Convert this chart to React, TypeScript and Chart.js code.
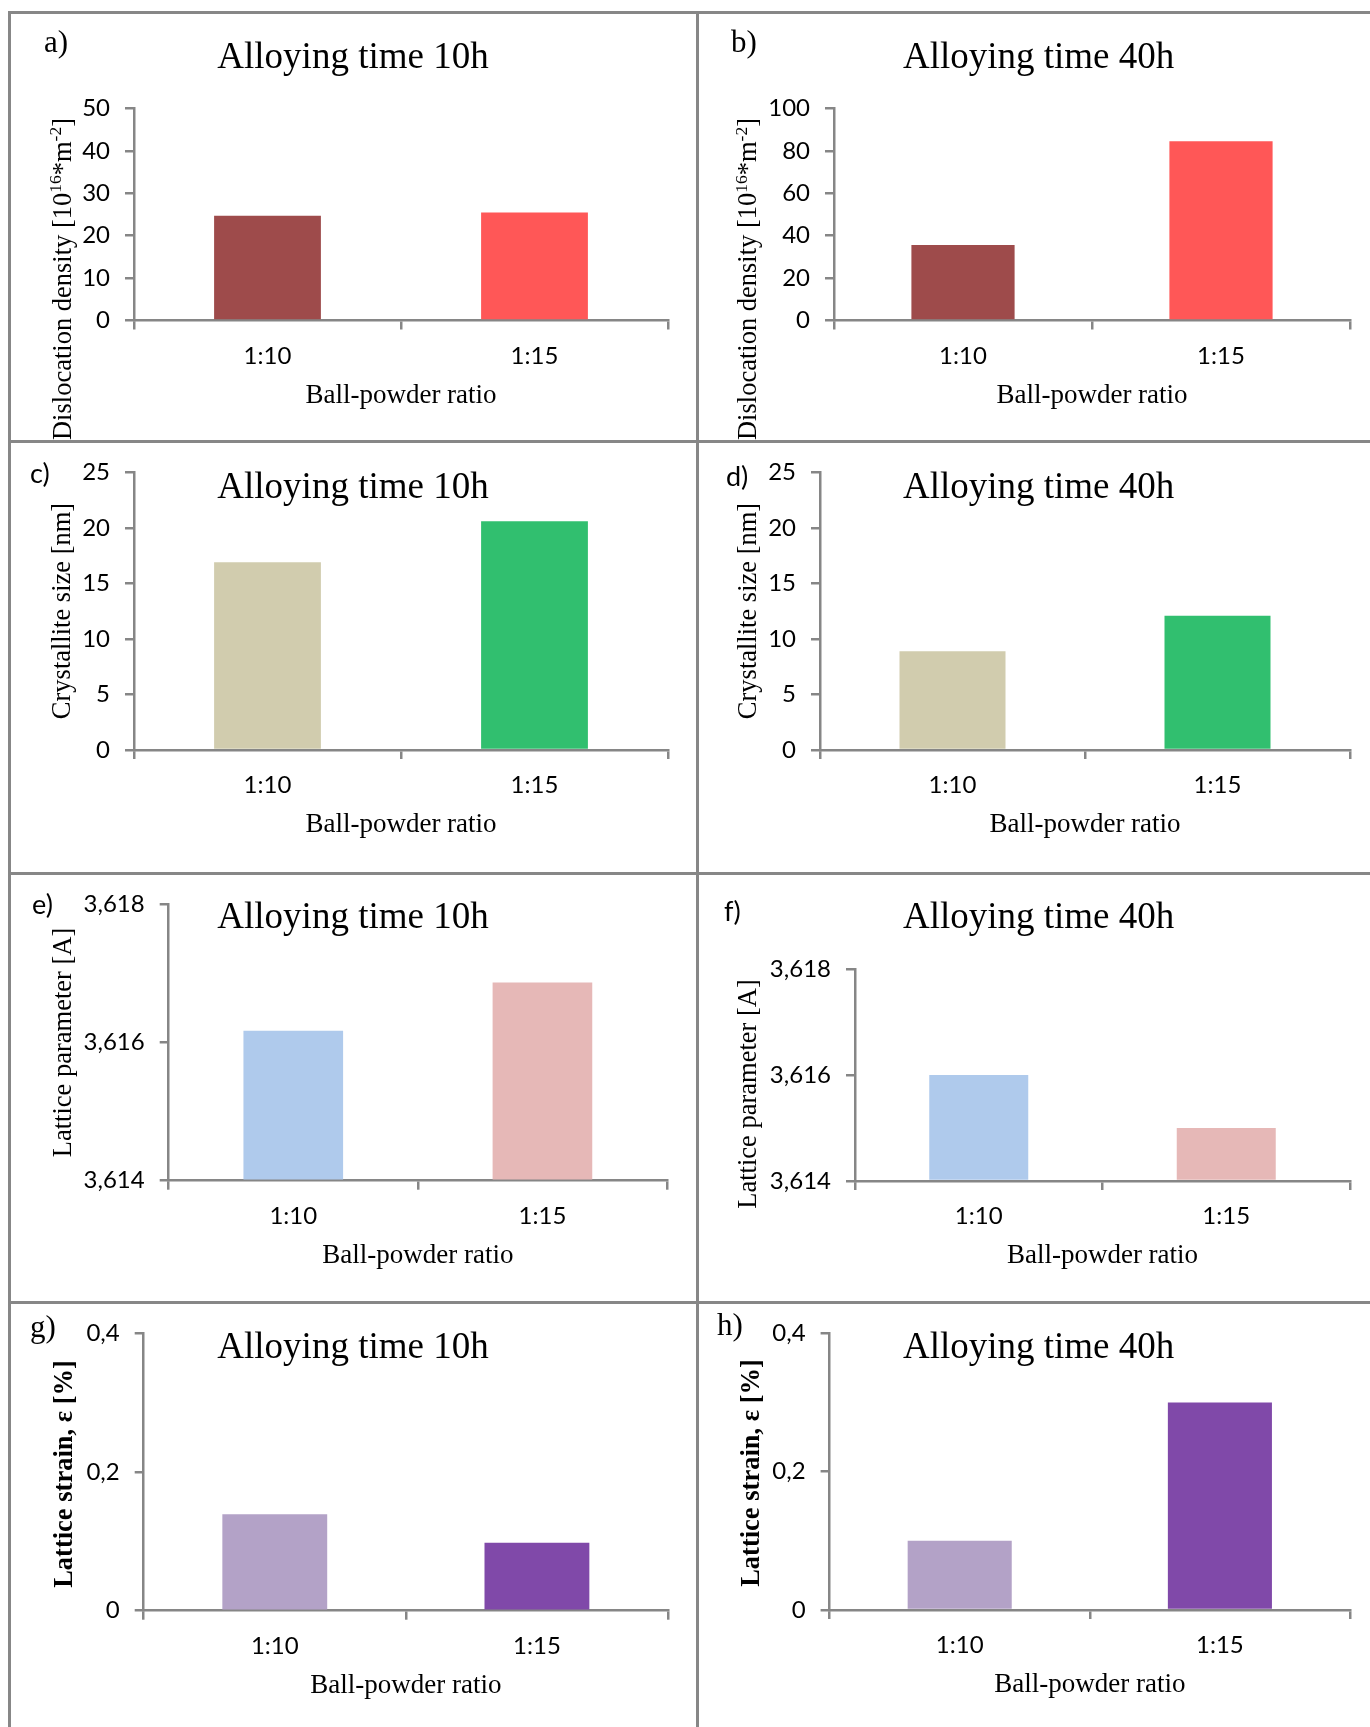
import React, { useEffect, useRef } from 'react';
import { Chart, registerables } from 'chart.js';

Chart.register(...registerables);

// ---------- data ----------
const categories = ['1:10', '1:15'];

const dislocation10h = [24.7, 25.5];
const dislocation40h = [35.6, 84.5];
const crystallite10h = [16.9, 20.6];
const crystallite40h = [8.9, 12.1];
const lattice10h = [3.61617, 3.61687];
const lattice40h = [3.616, 3.615];
const strain10h = [0.139, 0.098];
const strain40h = [0.1, 0.3];

const dislocationTicks10h = [0, 10, 20, 30, 40, 50];
const dislocationTickLabels10h = ['0', '10', '20', '30', '40', '50'];
const dislocationTicks40h = [0, 20, 40, 60, 80, 100];
const dislocationTickLabels40h = ['0', '20', '40', '60', '80', '100'];
const crystalliteTicks = [0, 5, 10, 15, 20, 25];
const crystalliteTickLabels = ['0', '5', '10', '15', '20', '25'];
const latticeTicks = [3.614, 3.616, 3.618];
const latticeTickLabels = ['3,614', '3,616', '3,618'];
const strainTicks = [0, 0.2, 0.4];
const strainTickLabels = ['0', '0,2', '0,4'];

const title10h = 'Alloying time 10h';
const title40h = 'Alloying time 40h';
const xAxisTitle = 'Ball-powder ratio';

type Part = { text: string; sup?: boolean };
const dislocationTitle: Part[] = [
  { text: 'Dislocation density [10' },
  { text: '16', sup: true },
  { text: '*m' },
  { text: '-2', sup: true },
  { text: ']' },
];
const crystalliteTitle: Part[] = [{ text: 'Crystallite size [nm]' }];
const latticeTitle: Part[] = [{ text: 'Lattice parameter [A]' }];
const strainTitle: Part[] = [{ text: 'Lattice strain, ε [%]' }];

// ---------- styles ----------
const AXIS = '#868686';
const BORDER = '#878787';
const SERIF = '"Liberation Serif", "Times New Roman", serif';
const SANS = 'Lato, "Open Sans", sans-serif';
const redPair = ['#9E4B4B', '#FF5757'];
const tanGreen = ['#D1CCAE', '#31BF6F'];
const bluePink = ['#AFCAEC', '#E6B8B7'];
const purplePair = ['#B3A2C7', '#8049A9'];

const TICK_SIZE = 24;
const XTITLE_SIZE = 27;
const YTITLE_SIZE = 26.5;
const TITLE_SIZE = 37;

type Box = { x: number; y: number; w: number; h: number };
type Plot = { l: number; r: number; t: number; b: number };

const colL = { x: 11, w: 686 };
const colR = { x: 699, w: 669 };
const rows = [
  { y: 14, h: 426 },
  { y: 443, h: 429 },
  { y: 875, h: 426 },
  { y: 1304, h: 423 },
];
const box = (c: { x: number; w: number }, r: { y: number; h: number }): Box => ({ x: c.x, y: r.y, w: c.w, h: r.h });

type Panel = {
  letter: string;
  letterFont: string;
  letterPos: [number, number];
  title: string;
  titlePos: [number, number];
  yTitle: Part[];
  yTitlePos: [number, number];
  yAnchor: 'end' | 'center';
  yBold: boolean;
  box: Box;
  plot: Plot;
  values: number[];
  ticks: number[];
  tickLabels: string[];
  colors: string[];
};

const serifLetter = `31px ${SERIF}`;
const sansLetter = `27px ${SANS}`;

const panels: Panel[] = [
  {
    letter: 'a)', letterFont: serifLetter, letterPos: [44, 52],
    title: title10h, titlePos: [353, 68],
    yTitle: dislocationTitle, yTitlePos: [63.5, 118], yAnchor: 'end', yBold: false,
    box: box(colL, rows[0]), plot: { l: 134, r: 668, t: 108.5, b: 320.5 },
    values: dislocation10h, ticks: dislocationTicks10h, tickLabels: dislocationTickLabels10h, colors: redPair,
  },
  {
    letter: 'b)', letterFont: serifLetter, letterPos: [731, 52],
    title: title40h, titlePos: [1038.6, 68],
    yTitle: dislocationTitle, yTitlePos: [749, 118], yAnchor: 'end', yBold: false,
    box: box(colR, rows[0]), plot: { l: 834, r: 1350, t: 108.5, b: 320.5 },
    values: dislocation40h, ticks: dislocationTicks40h, tickLabels: dislocationTickLabels40h, colors: redPair,
  },
  {
    letter: 'c)', letterFont: sansLetter, letterPos: [30, 483],
    title: title10h, titlePos: [353, 498],
    yTitle: crystalliteTitle, yTitlePos: [62.5, 611], yAnchor: 'center', yBold: false,
    box: box(colL, rows[1]), plot: { l: 134, r: 668, t: 471.7, b: 750 },
    values: crystallite10h, ticks: crystalliteTicks, tickLabels: crystalliteTickLabels, colors: tanGreen,
  },
  {
    letter: 'd)', letterFont: sansLetter, letterPos: [726, 486],
    title: title40h, titlePos: [1038.6, 498],
    yTitle: crystalliteTitle, yTitlePos: [749, 611], yAnchor: 'center', yBold: false,
    box: box(colR, rows[1]), plot: { l: 820, r: 1350, t: 471.7, b: 750 },
    values: crystallite40h, ticks: crystalliteTicks, tickLabels: crystalliteTickLabels, colors: tanGreen,
  },
  {
    letter: 'e)', letterFont: sansLetter, letterPos: [32, 914],
    title: title10h, titlePos: [353, 928],
    yTitle: latticeTitle, yTitlePos: [63.5, 1042.5], yAnchor: 'center', yBold: false,
    box: box(colL, rows[2]), plot: { l: 168.7, r: 667, t: 902.7, b: 1180.7 },
    values: lattice10h, ticks: latticeTicks, tickLabels: latticeTickLabels, colors: bluePink,
  },
  {
    letter: 'f)', letterFont: sansLetter, letterPos: [724, 921],
    title: title40h, titlePos: [1038.6, 928],
    yTitle: latticeTitle, yTitlePos: [749, 1094], yAnchor: 'center', yBold: false,
    box: box(colR, rows[2]), plot: { l: 855, r: 1350, t: 969, b: 1181 },
    values: lattice40h, ticks: latticeTicks, tickLabels: latticeTickLabels, colors: bluePink,
  },
  {
    letter: 'g)', letterFont: serifLetter, letterPos: [30, 1337],
    title: title10h, titlePos: [353, 1358],
    yTitle: strainTitle, yTitlePos: [64.5, 1474], yAnchor: 'center', yBold: true,
    box: box(colL, rows[3]), plot: { l: 143.7, r: 668, t: 1332.7, b: 1610.7 },
    values: strain10h, ticks: strainTicks, tickLabels: strainTickLabels, colors: purplePair,
  },
  {
    letter: 'h)', letterFont: serifLetter, letterPos: [717, 1335],
    title: title40h, titlePos: [1038.6, 1358],
    yTitle: strainTitle, yTitlePos: [752, 1473], yAnchor: 'center', yBold: true,
    box: box(colR, rows[3]), plot: { l: 829.6, r: 1350, t: 1332.7, b: 1610 },
    values: strain40h, ticks: strainTicks, tickLabels: strainTickLabels, colors: purplePair,
  },
];

function makeTextPlugin(p: Panel) {
  return {
    id: 'panelText',
    afterDraw(chart: any) {
      const ctx: CanvasRenderingContext2D = chart.ctx;
      const ox = p.box.x;
      const oy = p.box.y;
      ctx.save();
      ctx.fillStyle = '#000';
      ctx.textBaseline = 'alphabetic';
      // panel letter
      ctx.font = p.letterFont;
      ctx.textAlign = 'left';
      ctx.fillText(p.letter, p.letterPos[0] - ox, p.letterPos[1] - oy);
      // title
      ctx.font = `${TITLE_SIZE}px ${SERIF}`;
      ctx.textAlign = 'center';
      ctx.fillText(p.title, p.titlePos[0] - ox, p.titlePos[1] - oy);
      // y title (rotated, with superscripts)
      const weight = p.yBold ? 'bold ' : '';
      const mainFont = `${weight}${YTITLE_SIZE}px ${SERIF}`;
      const supFont = `${weight}${YTITLE_SIZE * 0.66}px ${SERIF}`;
      let total = 0;
      const widths = p.yTitle.map((part) => {
        ctx.font = part.sup ? supFont : mainFont;
        const w = ctx.measureText(part.text).width;
        total += w;
        return w;
      });
      ctx.translate(p.yTitlePos[0] - ox, p.yTitlePos[1] - oy);
      ctx.rotate(-Math.PI / 2);
      ctx.textAlign = 'left';
      let x = p.yAnchor === 'end' ? -total : -total / 2;
      const base = YTITLE_SIZE * 0.27;
      p.yTitle.forEach((part, i) => {
        ctx.font = part.sup ? supFont : mainFont;
        ctx.fillText(part.text, x, part.sup ? base - YTITLE_SIZE * 0.36 : base);
        x += widths[i];
      });
      ctx.restore();
    },
  };
}

function buildChart(canvas: HTMLCanvasElement, p: Panel) {
  const yAxisWidth = p.plot.l - p.box.x;
  const xAxisHeight = p.box.y + p.box.h - p.plot.b;
  const xTitleCenter = p.plot.b + 75;
  const xTitlePadBottom = p.box.y + p.box.h - xTitleCenter - (XTITLE_SIZE * 1.2) / 2;
  const ticks = p.ticks;
  const labels = p.tickLabels;
  return new Chart(canvas, {
    type: 'bar',
    data: {
      labels: categories,
      datasets: [
        {
          data: p.values,
          backgroundColor: p.colors,
          borderWidth: 0,
          barPercentage: 0.4,
          categoryPercentage: 1,
          base: ticks[0],
        },
      ],
    },
    options: {
      responsive: false,
      maintainAspectRatio: false,
      animation: false,
      devicePixelRatio: 1,
      layout: {
        padding: {
          left: 0,
          top: p.plot.t - p.box.y,
          right: p.box.x + p.box.w - p.plot.r,
          bottom: 0,
        },
      },
      plugins: {
        legend: { display: false },
        tooltip: { enabled: false },
        title: { display: false },
      },
      scales: {
        x: {
          type: 'category',
          offset: true,
          grid: {
            offset: true,
            drawOnChartArea: false,
            drawTicks: true,
            tickLength: 9,
            lineWidth: 2.5,
            color: AXIS,
          },
          border: { display: true, color: AXIS, width: 2.5 },
          ticks: {
            color: '#000',
            font: { family: SANS, size: TICK_SIZE },
            padding: 12,
            maxRotation: 0,
            autoSkip: false,
          },
          title: {
            display: true,
            text: xAxisTitle,
            color: '#000',
            font: { family: SERIF, size: XTITLE_SIZE },
            padding: { top: 0, bottom: xTitlePadBottom },
          },
          afterFit: (scale: any) => {
            scale.height = xAxisHeight;
          },
        },
        y: {
          type: 'linear',
          min: ticks[0],
          max: ticks[ticks.length - 1],
          grid: {
            drawOnChartArea: false,
            drawTicks: true,
            tickLength: 9,
            lineWidth: 2.5,
            color: AXIS,
          },
          border: { display: true, color: AXIS, width: 2.5 },
          ticks: {
            color: '#000',
            font: { family: SANS, size: TICK_SIZE },
            padding: 15,
            callback: (_v: any, i: number) => labels[i],
          },
          afterBuildTicks: (scale: any) => {
            scale.ticks = ticks.map((v) => ({ value: v }));
          },
          afterFit: (scale: any) => {
            scale.width = yAxisWidth;
          },
        },
      },
    },
    plugins: [makeTextPlugin(p)],
  } as any);
}

export default function App() {
  const refs = useRef<(HTMLCanvasElement | null)[]>([]);

  useEffect(() => {
    const charts = panels.map((p, i) => buildChart(refs.current[i] as HTMLCanvasElement, p));
    return () => charts.forEach((c) => c.destroy());
  }, []);

  const line = (left: number, top: number, width: number, height: number, key: string) => (
    <div
      key={key}
      style={{ position: 'absolute', left, top, width, height, background: BORDER }}
    />
  );

  return (
    <div style={{ position: 'absolute', left: 0, top: 0, width: 1370, height: 1727, background: '#fff', overflow: 'hidden' }}>
      {panels.map((p, i) => (
        <canvas
          key={i}
          ref={(el) => {
            refs.current[i] = el;
          }}
          width={p.box.w}
          height={p.box.h}
          style={{ position: 'absolute', left: p.box.x, top: p.box.y, width: p.box.w, height: p.box.h }}
        />
      ))}
      {line(8, 11, 1362, 3, 'top')}
      {line(8, 11, 3, 1716, 'left')}
      {line(696, 11, 3, 1716, 'mid')}
      {line(8, 440, 1362, 3, 'r1')}
      {line(8, 872, 1362, 3, 'r2')}
      {line(8, 1301, 1362, 3, 'r3')}
    </div>
  );
}
